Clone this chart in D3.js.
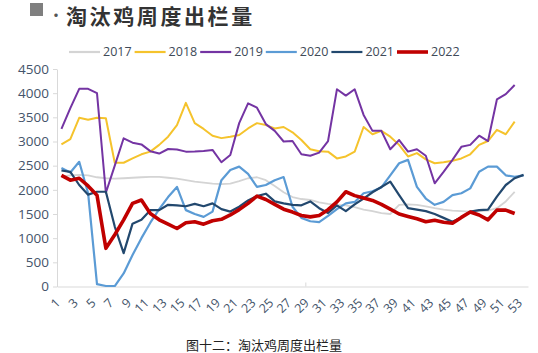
<!DOCTYPE html>
<html>
<head>
<meta charset="utf-8">
<script src="https://cdn.jsdelivr.net/npm/d3@7"></script>
<style>
  body { margin: 0; background: #fff; }
  svg { display: block; }
</style>
</head>
<body>
<div id="chart"></div>
<script>

// weeks and tick labels
const weeks = d3.range(1, 54);
const weekTicks = weeks.filter(w => w % 2 === 1);
const yTicks = [0, 500, 1000, 1500, 2000, 2500, 3000, 3500, 4000, 4500];

const years = ["2017", "2018", "2019", "2020", "2021", "2022"];
const colors = ["#d4d4d4", "#f5c32c", "#7434a3", "#5b9bd5", "#22486e", "#c00000"];
const widths = [1.8, 2, 2, 2.2, 2.2, 3.6];

// weekly culled-hen output
const y2017 = [2280, 2300, 2310, 2300, 2260, 2240, 2230, 2240, 2250, 2260, 2270, 2270, 2250, 2230, 2200, 2170, 2150, 2130, 2120, 2130, 2180, 2240, 2260, 2200, 2080, 1950, 1850, 1810, 1790, 1740, 1710, 1690, 1680, 1640, 1590, 1560, 1520, 1500, 1690, 1700, 1690, 1660, 1620, 1590, 1570, 1560, 1550, 1560, 1570, 1620, 1760, 1960];
const y2018 = [2940, 3050, 3490, 3450, 3490, 3480, 2560, 2560, 2650, 2735, 2790, 2930, 3100, 3340, 3800, 3380, 3260, 3120, 3070, 3100, 3135, 3270, 3380, 3340, 3270, 3300, 3190, 3030, 2840, 2800, 2790, 2650, 2690, 2790, 3300, 3150, 3220, 3100, 2930, 2690, 2760, 2630, 2550, 2570, 2600, 2650, 2735, 2930, 3010, 3240, 3150, 3410];
const y2019 = [3260, 3690, 4090, 4090, 4000, 1940, 2500, 3066, 2975, 2940, 2800, 2750, 2845, 2835, 2790, 2795, 2805, 2825, 2570, 2720, 3380, 3790, 3700, 3360, 3220, 3000, 3010, 2735, 2705, 2770, 3010, 4080, 3950, 4080, 3550, 3220, 3220, 2840, 3030, 2790, 2840, 2705, 2135, 2370, 2620, 2890, 2930, 3120, 3010, 3870, 3980, 4170];
const y2020 = [2450, 2360, 2580, 1930, 50, 10, 10, 270, 650, 1000, 1320, 1600, 1850, 2060, 1580, 1500, 1440, 1550, 2200, 2410, 2480, 2330, 2060, 2100, 2200, 2265, 1650, 1420, 1350, 1330, 1460, 1600, 1720, 1750, 1930, 1970, 2050, 2300, 2550, 2620, 2060, 1820, 1690, 1750, 1890, 1930, 2030, 2375, 2480, 2480, 2300, 2270, 2300];
const y2021 = [2400, 2370, 2100, 1900, 1960, 1960, 1240, 690, 1300, 1380, 1580, 1580, 1690, 1680, 1660, 1710, 1660, 1720, 1600, 1550, 1650, 1780, 1870, 1920, 1760, 1720, 1690, 1680, 1760, 1620, 1520, 1680, 1560, 1700, 1820, 1950, 2060, 2170, 1890, 1620, 1590, 1560, 1500, 1420, 1340, 1430, 1550, 1580, 1590, 1860, 2100, 2240, 2310];
const y2022 = [2300, 2200, 2240, 2080, 1890, 790, 1070, 1380, 1720, 1790, 1510, 1380, 1290, 1200, 1320, 1340, 1290, 1360, 1390, 1480, 1590, 1720, 1870, 1800, 1700, 1600, 1540, 1470, 1440, 1470, 1590, 1750, 1960, 1880, 1830, 1780, 1700, 1600, 1500, 1450, 1400, 1340, 1370, 1330, 1310, 1430, 1540, 1480, 1380, 1580, 1580, 1510];

const series = [y2017, y2018, y2019, y2020, y2021, y2022];

function main() {
    const W = 538, H = 353;
    const axisColor = "#d9d9d9";
    const labelColor = "#44546a";

    const svg = d3.select("#chart")
        .append("svg")
        .attr("width", W)
        .attr("height", H);

    // title block
    svg.append("rect")
        .attr("x", 30).attr("y", 3)
        .attr("width", 13).attr("height", 13)
        .attr("fill", "#7f7f7f");
    svg.append("text")
        .attr("x", 48).attr("y", 21)
        .attr("font-family", "'Noto Sans CJK SC', sans-serif")
        .attr("font-size", "16px")
        .attr("fill", "#555")
        .text("·");
    svg.append("text")
        .attr("x", 66).attr("y", 24)
        .attr("font-family", "'Noto Sans CJK SC', sans-serif")
        .attr("font-size", "21px")
        .attr("font-weight", "bold")
        .attr("letter-spacing", "2.6px")
        .attr("fill", "#333")
        .text("淘汰鸡周度出栏量");

    // scales
    const x = d3.scalePoint()
        .domain(weeks)
        .range([57, 528])
        .padding(0.5);
    const y = d3.scaleLinear()
        .domain([0, 4500])
        .range([286.5, 69]);

    // y axis
    const gy = svg.append("g")
        .attr("transform", "translate(57,0)")
        .call(d3.axisLeft(y).tickValues(yTicks).tickFormat(d3.format("d"))
            .tickSize(4).tickSizeOuter(0).tickPadding(4));
    gy.select(".domain").attr("stroke", axisColor);
    gy.selectAll(".tick line").attr("stroke", axisColor);
    gy.selectAll(".tick text")
        .attr("fill", labelColor)
        .attr("font-family", "'Open Sans', sans-serif")
        .attr("font-size", "13.5px");

    // x axis
    const gx = svg.append("g")
        .attr("transform", "translate(0,286.5)")
        .call(d3.axisBottom(x).tickValues(weekTicks).tickSize(0).tickSizeOuter(0));
    gx.select(".domain").attr("stroke", axisColor);
    gx.selectAll(".tick text")
        .attr("fill", labelColor)
        .attr("font-family", "'Open Sans', sans-serif")
        .attr("font-size", "12.5px")
        .attr("text-anchor", "end")
        .attr("y", 0)
        .attr("dy", "0.35em")
        .attr("transform", "translate(-4,14) rotate(-45)");
    // small mark between week 28 and 29
    const step = x.step();
    gx.append("line")
        .attr("x1", x(28) + step / 2).attr("x2", x(28) + step / 2)
        .attr("y1", 0).attr("y2", -4)
        .attr("stroke", axisColor);

    // lines
    const line = d3.line()
        .x((d, i) => x(weeks[i]))
        .y(d => y(d));

    series.forEach(function(vals, k) {
        svg.append("path")
            .datum(vals)
            .attr("fill", "none")
            .attr("stroke", colors[k])
            .attr("stroke-width", widths[k])
            .attr("stroke-linejoin", "round")
            .attr("d", line);
    });

    // legend
    const legend = svg.append("g")
        .attr("transform", "translate(69,52)");
    years.forEach(function(yr, k) {
        const g = legend.append("g")
            .attr("transform", `translate(${k * 65.6},0)`);
        g.append("line")
            .attr("x1", 0).attr("x2", 31)
            .attr("stroke", colors[k])
            .attr("stroke-width", k === 5 ? 3.6 : 2.2);
        g.append("text")
            .attr("x", 34).attr("y", 0)
            .attr("dy", "0.35em")
            .attr("fill", "#404a57")
            .attr("font-family", "'Open Sans', sans-serif")
            .attr("font-size", "12.5px")
            .text(yr);
    });

    // caption
    svg.append("text")
        .attr("x", 264).attr("y", 350)
        .attr("text-anchor", "middle")
        .attr("font-family", "'Noto Sans CJK SC', sans-serif")
        .attr("font-size", "13px")
        .attr("fill", "#222")
        .text("图十二：淘汰鸡周度出栏量");
}

main();
</script>
</body>
</html>
